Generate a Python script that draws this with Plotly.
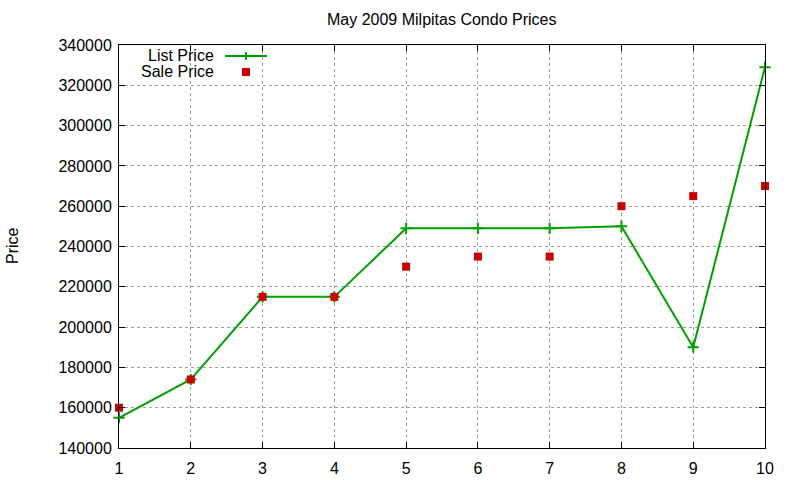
import plotly.graph_objects as go

x_vals = [1, 2, 3, 4, 5, 6, 7, 8, 9, 10]
list_price = [155000, 174000, 215000, 215000, 249000, 249000, 249000, 250000, 190000, 329000]
sale_price = [160000, 174000, 215000, 215000, 230000, 235000, 235000, 260000, 265000, 270000]
y_ticks = list(range(140000, 340001, 20000))

GREEN = "#00a000"
RED = "#cc0000"
FONT = "Liberation Sans, Arial, sans-serif"

W, H = 800, 480
L, R, T, B = 119, 35, 45, 32
PW, PH = W - L - R, H - T - B

def px(xp):
    return (xp - L) / PW

def py(yp):
    return (H - B - yp) / PH

fig = go.Figure()
fig.add_trace(go.Scatter(
    x=x_vals, y=list_price, mode="lines+markers", name="List Price",
    line=dict(color=GREEN, width=2),
    marker=dict(symbol="cross-thin", size=8, line=dict(color=GREEN, width=2), color=GREEN),
    showlegend=False, cliponaxis=False,
))
fig.add_trace(go.Scatter(
    x=x_vals, y=sale_price, mode="markers", name="Sale Price",
    marker=dict(symbol="square", size=8, color=RED),
    showlegend=False, cliponaxis=False,
))

axis_common = dict(
    showline=True, linecolor="black", linewidth=1, mirror="allticks",
    ticks="inside", ticklen=6, tickcolor="black", automargin=False,
    showgrid=True, gridcolor="#a0a0a0", griddash="dot", gridwidth=1,
    zeroline=False, tickfont=dict(family=FONT, size=16, color="black"),
)

fig.update_xaxes(range=[1, 10], tickvals=x_vals, ticklabelstandoff=6, **axis_common)
fig.update_yaxes(range=[140000, 340000], tickvals=y_ticks, tickformat="d", ticklabelstandoff=3,
                 **axis_common)

annotations = [
    dict(text="May 2009 Milpitas Condo Prices", xref="paper", yref="paper",
         x=px(441.5), y=py(20), xanchor="center", yanchor="middle", showarrow=False,
         font=dict(family=FONT, size=16, color="black")),
    dict(text="Price", xref="paper", yref="paper", x=px(12), y=py(246),
         xanchor="center", yanchor="middle", showarrow=False, textangle=-90,
         font=dict(family=FONT, size=16, color="black")),
    dict(text="List Price", xref="paper", yref="paper", x=px(216), y=py(55),
         xanchor="right", yanchor="middle", showarrow=False,
         font=dict(family=FONT, size=16, color="black")),
    dict(text="Sale Price", xref="paper", yref="paper", x=px(216), y=py(71),
         xanchor="right", yanchor="middle", showarrow=False,
         font=dict(family=FONT, size=16, color="black")),
]

shapes = [
    dict(type="line", xref="paper", yref="paper", x0=px(225), x1=px(267), y0=py(56), y1=py(56),
         line=dict(color=GREEN, width=2)),
    dict(type="line", xref="paper", yref="paper", x0=px(246), x1=px(246), y0=py(52), y1=py(60),
         line=dict(color=GREEN, width=2)),
    dict(type="rect", xref="paper", yref="paper", x0=px(242), x1=px(250), y0=py(68), y1=py(76),
         line=dict(width=0), fillcolor=RED),
]

fig.update_layout(
    width=W, height=H,
    margin=dict(l=L, r=R, t=T, b=B),
    plot_bgcolor="white", paper_bgcolor="white",
    annotations=annotations, shapes=shapes,
    font=dict(family=FONT, color="black"),
)

fig.write_html("out.html")
